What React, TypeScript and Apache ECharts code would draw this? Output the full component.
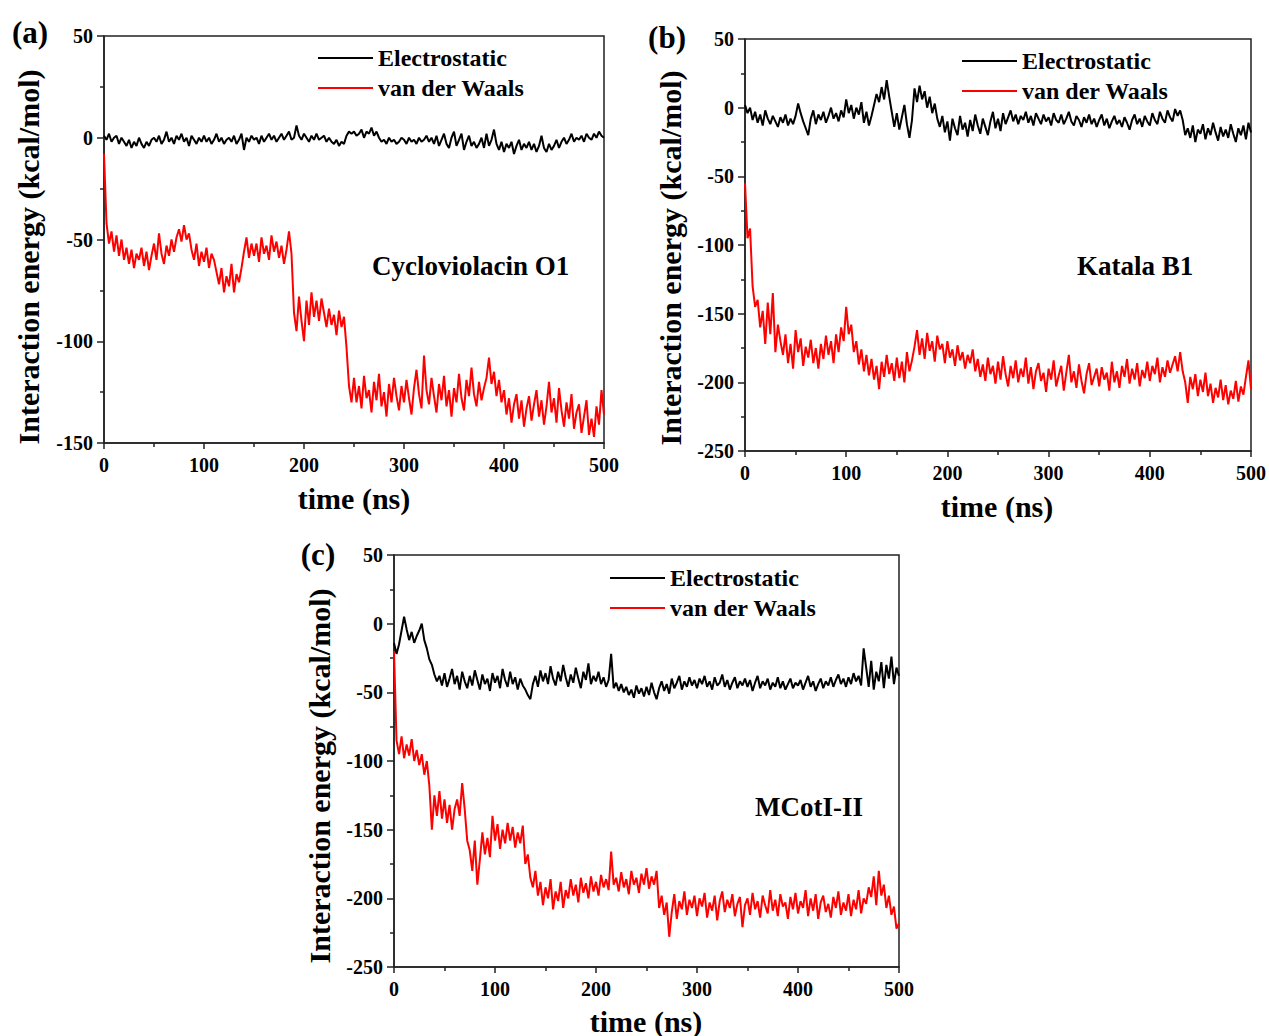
import React, { useEffect, useRef } from "react";
import * as echarts from "echarts";

// ---------- data (kcal/mol), sampled every 2.5 ns from 0 to 500 ns ----------
const STEP_NS = 2.5;
const X_TICKS = [0, 100, 200, 300, 400, 500];

// (a) Cycloviolacin O1
const A_ELEC = [
  1, -1, 2, -2, 0, 1, -3, 0, -2, -4,
  -1, -5, -2, -4, 0, -3, -5, -2, -4, -1,
  0, -2, 1, -3, -1, 3, -2, 0, -3, 1,
  -1, 2, -2, 0, -4, 1, -1, -3, 0, -2,
  1, -2, 0, -3, -1, 2, -2, 0, -3, -1,
  0, -2, 1, -3, -1, 2, -6, 0, -2, 1,
  -1, 0, -3, 1, -2, 0, 2, -1, 1, -2,
  0, 2, -1, 1, 3, -1, 0, 6, 1, -1,
  2, 0, -2, 1, -1, 2, -1, 0, 1, -2,
  0, -2, -3, -1, -4, -2, -3, 1, 3, 2,
  3, 1, 2, 4, 0, 3, 2, 5, 1, 3,
  0, -2, -1, -3, 0, -2, -1, -3, -2, 0,
  -1, -3, 0, -2, -1, -3, 0, -2, -1, 1,
  -2, 0, -3, 1, -4, -1, 2, -3, -5, 0,
  3, -4, -1, 2, -6, -2, 1, -4, -2, -5,
  -3, 0, -5, 2, -4, -1, 4, -3, -6, -2,
  -7, -3, -5, -2, -8, -4, -1, -6, -3, -5,
  -2, -6, -3, -7, -4, 1, -5, -7, -3, -6,
  -4, -1, -5, -2, 0, -3, -1, 2, -2, 0,
  -1, 1, -2, 2, 0, -1, 2, 0, 3, 1,
  0,
];
const A_VDW = [
  -8, -42, -52, -46, -56, -48, -58, -50, -60, -54,
  -62, -55, -64, -57, -60, -54, -63, -56, -65, -58,
  -52, -60, -47, -57, -62, -53, -58, -50, -56, -49,
  -45, -51, -43, -50, -47, -55, -60, -52, -63, -56,
  -61, -54, -64, -57, -60, -66, -72, -64, -76, -68,
  -73, -62, -76, -67, -71, -64, -56, -49, -59, -52,
  -58, -52, -61, -49, -57, -53, -60, -48, -56, -51,
  -59, -53, -62, -55, -46, -57, -86, -95, -78, -90,
  -100, -80, -92, -76, -88, -80, -90, -79, -86, -93,
  -84, -92, -87, -97, -85, -93, -88, -103, -122, -130,
  -118, -130, -122, -133, -117, -128, -124, -135, -120, -129,
  -116, -132, -125, -137, -121, -130, -118, -127, -134, -122,
  -130, -119, -128, -136, -123, -114, -126, -133, -107, -124,
  -131, -118, -127, -135, -121, -129, -117, -132, -124, -137,
  -123, -130, -116, -128, -134, -119, -127, -113, -126, -132,
  -120, -129, -123, -118, -108, -121, -115, -127, -119, -130,
  -124, -136, -128, -140, -131, -126, -138, -129, -142, -133,
  -127, -139, -131, -124, -137, -129, -141, -132, -120, -135,
  -128, -140, -123, -134, -142, -130, -138, -126, -143, -135,
  -131, -145, -137, -129, -146, -138, -147, -132, -141, -124,
  -136,
];

// (b) Katala B1
const B_ELEC = [
  2, -4, 0, -9, -3, -11, -5, -13, -2, -8,
  -12, -6, -10, -14, -7, -11, -5, -13, -8, -12,
  -6, 3, -4, -10, -15, -20, -8, -2, -12, -5,
  -9, -3, -11, -6, 0, -8, -4, -10, -2, -7,
  6, -4, 2, -8, 0, -5, 4, -11, -3, -13,
  -6, 2, 10, 4, 15, 6, 20, 8, -3, -14,
  -4, -16, -7, 2, -12, -22, -9, 14, 4, 16,
  6, 12, 0, 8, -4, 3, -8, -14, -6, -18,
  -10, -24, -8, -15, -20, -6, -16, -11, -21, -9,
  -17, -5, -13, -19, -8, -14, -20, -10, -3, -15,
  -8, -17, -4, -12, -7, -2, -10, -5, -12, -6,
  -9, -3, -11, -6, -13, -4, -8, -12, -5, -10,
  -7, -13, -4, -9, -11, -5, -12, -8, -3, -10,
  -13, -6, -9, -14, -7, -11, -5, -12, -8, -14,
  -9, -5, -13, -8, -15, -10, -6, -12, -9, -14,
  -7, -11, -16, -9, -5, -12, -8, -14, -6, -10,
  -13, -4, -9, -12, -3, -8, -11, -2, -7, -10,
  -1, -6, -2, -9, -20, -15, -22, -13, -25, -16,
  -19, -12, -23, -15, -20, -11, -18, -24, -14, -21,
  -16, -22, -12, -19, -25, -15, -20, -13, -23, -11,
  -18,
];
const B_VDW = [
  -55, -95, -88, -130, -145, -140, -160, -148, -172, -142,
  -165, -135, -178, -158, -170, -180, -165, -186, -172, -190,
  -162, -178, -168, -188, -174, -182, -169, -186, -175, -190,
  -172, -183, -166, -180, -170, -186, -165, -178, -160, -170,
  -145, -165, -158, -178, -170, -187, -176, -192, -180, -195,
  -183, -198, -188, -205, -185, -196, -180, -194, -186, -199,
  -182, -197, -185, -200, -178, -192, -184, -174, -162, -180,
  -168, -183, -164, -177, -170, -185, -166, -176, -172, -186,
  -170, -182, -176, -188, -173, -184, -178, -190, -180, -186,
  -176, -192, -183, -196, -187, -199, -182, -194, -188, -201,
  -185, -198, -181, -194, -203, -188, -197, -184, -200, -190,
  -196, -182, -201, -189, -205, -192, -186, -199, -193, -207,
  -190, -198, -184, -203, -195, -188, -206, -193, -180, -200,
  -192, -204, -187, -199, -208, -194, -186, -202, -196, -190,
  -203, -189, -198, -193, -206, -185, -200, -192, -204, -188,
  -196, -183, -201, -190, -198, -186, -203, -191, -197, -185,
  -199, -188, -194, -182, -200, -189, -196, -184, -193, -187,
  -181, -192, -178, -192, -200, -215, -196, -205, -194, -210,
  -198, -207, -193, -210, -201, -215, -204, -211, -198, -213,
  -202, -216, -206, -212, -199, -214, -203, -209, -196, -184,
  -205,
];

// (c) MCotI-II
const C_ELEC = [
  -14, -22, -15, -5, 5, -4, -12, -6, -14, -9,
  -5, 0, -12, -18, -26, -30, -37, -42, -38, -45,
  -36, -46, -40, -33, -44, -38, -48, -35, -42, -47,
  -38, -45, -34, -41, -48, -37, -44, -40, -49, -36,
  -43, -38, -47, -33, -41, -46, -35, -44, -39, -48,
  -40, -45, -48, -52, -55, -44, -38, -46, -34, -42,
  -36, -44, -31, -40, -45, -35, -42, -30, -39, -46,
  -37, -43, -32, -40, -47, -35, -41, -29, -44, -38,
  -42, -35, -44, -39, -46, -41, -22, -47, -43, -49,
  -44, -50, -46, -52, -48, -54, -45, -51, -47, -53,
  -46, -52, -43, -50, -55, -47, -42, -49, -44, -51,
  -40, -47, -43, -38, -48, -42, -46, -39, -45, -41,
  -47, -40, -44, -38, -46, -42, -48, -39, -45, -43,
  -37, -46, -41, -48, -43, -39, -47, -42, -45, -40,
  -46, -41, -49, -43, -38, -47, -42, -45, -40, -48,
  -43, -46, -39, -47, -42, -48, -44, -40, -47, -43,
  -45, -41, -48, -43, -38, -46, -42, -49, -44, -40,
  -47, -42, -45, -39, -46, -41, -37, -44, -40, -46,
  -39, -44, -36, -42, -38, -45, -18, -32, -46, -27,
  -48, -35, -42, -28, -47, -30, -40, -24, -44, -32,
  -38,
];
const C_VDW = [
  -20, -85, -95, -82, -98, -88, -96, -84, -100, -92,
  -103, -95, -110, -100, -118, -150, -125, -140, -122, -142,
  -128, -145, -132, -150, -135, -128, -140, -116, -135, -158,
  -165, -180, -158, -190, -172, -152, -168, -156, -170, -140,
  -158, -146, -164, -150, -160, -145, -158, -148, -163, -152,
  -160, -147, -175, -168, -185, -192, -180, -198, -188, -205,
  -192, -200, -186, -208, -195, -202, -188, -207, -194, -200,
  -186, -198, -190, -203, -185, -196, -189, -200, -184, -195,
  -188, -198, -183, -192, -186, -194, -166, -190, -185, -195,
  -181, -192, -186, -197, -180, -190, -185, -196, -182, -190,
  -178, -193, -184, -190, -180, -207, -198, -212, -203, -228,
  -210, -197, -215, -202, -208, -195, -212, -201, -207, -198,
  -213, -200, -206, -196, -214, -203, -209, -198, -216, -202,
  -195, -210, -201, -207, -197, -213, -204, -199, -221, -205,
  -200, -212, -196, -208, -202, -214, -198, -205, -211, -194,
  -209, -201, -213, -197, -206, -203, -215, -199, -208, -196,
  -211, -202, -207, -194, -213, -200, -209, -197, -215, -203,
  -198, -210, -204, -214, -199, -207, -195, -212, -203, -209,
  -197, -213, -201, -208, -194, -211, -200, -204, -192, -199,
  -184, -205, -180, -198, -190, -207, -198, -212, -206, -222,
  -218,
];

const SERIES_NAMES = ["Electrostatic", "van der Waals"];
const PANEL_LABELS = ["(a)", "(b)", "(c)"];
const PANEL_TITLES = ["Cycloviolacin O1", "Katala B1", "MCotI-II"];
const Y_RANGES = [
  [-150, 50],
  [-250, 50],
  [-250, 50],
];
const X_NAME = "time (ns)";
const Y_NAME = "Interaction energy (kcal/mol)";

// ---------- layout ----------
const FONT = '"Liberation Serif", "Times New Roman", serif';
const AXIS_COLOR = "#222";
const COLORS = ["#000000", "#ff0000"];

const GRIDS = [
  { left: 104, top: 36, width: 500, height: 407 },
  { left: 745, top: 39, width: 506, height: 412 },
  { left: 394, top: 555, width: 505, height: 412 },
];
const LAYOUT = [
  { label: [30, 32], yName: [28, 257], xName: [354, 498], title: [372, 266], legend: [318, 58] },
  { label: [667, 37], yName: [670, 258], xName: [997, 506], title: [1077, 266], legend: [962, 61] },
  { label: [318, 554], yName: [319, 776], xName: [646, 1021], title: [755, 807], legend: [610, 578] },
];

const toPairs = (vals: number[]) => vals.map((v, i) => [i * STEP_NS, v]);

const PANEL_DATA = [
  [A_ELEC, A_VDW],
  [B_ELEC, B_VDW],
  [C_ELEC, C_VDW],
];

function buildOption() {
  const labelStyle = {
    color: "#000",
    fontFamily: FONT,
    fontWeight: "bold" as const,
    fontSize: 20,
  };
  const xAxis = GRIDS.map((_, i) => ({
    type: "value",
    gridIndex: i,
    min: X_TICKS[0],
    max: X_TICKS[X_TICKS.length - 1],
    interval: X_TICKS[1] - X_TICKS[0],
    axisLine: { show: true, onZero: false, lineStyle: { color: AXIS_COLOR, width: 1.5 } },
    axisTick: { show: true, inside: false, length: 6, lineStyle: { color: AXIS_COLOR, width: 1.5 } },
    minorTick: { show: true, splitNumber: 2, length: 4, lineStyle: { color: AXIS_COLOR, width: 1.5 } },
    splitLine: { show: false },
    axisLabel: { ...labelStyle, margin: 12 },
  }));
  const yAxis = GRIDS.map((_, i) => ({
    type: "value",
    gridIndex: i,
    min: Y_RANGES[i][0],
    max: Y_RANGES[i][1],
    interval: 50,
    axisLine: { show: true, onZero: false, lineStyle: { color: AXIS_COLOR, width: 1.5 } },
    axisTick: { show: true, inside: false, length: 7, lineStyle: { color: AXIS_COLOR, width: 1.5 } },
    minorTick: { show: true, splitNumber: 2, length: 4, lineStyle: { color: AXIS_COLOR, width: 1.5 } },
    splitLine: { show: false },
    axisLabel: { ...labelStyle, margin: 11 },
  }));
  const grid = GRIDS.map((g) => ({
    ...g,
    show: true,
    borderColor: AXIS_COLOR,
    borderWidth: 1.5,
    backgroundColor: "transparent",
  }));
  const series: any[] = [];
  PANEL_DATA.forEach((pair, i) => {
    pair.forEach((vals, k) => {
      series.push({
        type: "line",
        name: SERIES_NAMES[k],
        xAxisIndex: i,
        yAxisIndex: i,
        data: toPairs(vals),
        showSymbol: false,
        symbol: "none",
        lineStyle: { color: COLORS[k], width: 2 },
        itemStyle: { color: COLORS[k] },
        z: 2 + k,
      });
    });
  });

  const graphic: any[] = [];
  LAYOUT.forEach((L, i) => {
    graphic.push({
      type: "text",
      x: L.label[0],
      y: L.label[1],
      style: { text: PANEL_LABELS[i], fontFamily: FONT, fontWeight: "bold", fontSize: 31, fill: "#000", align: "center", verticalAlign: "middle" },
    });
    graphic.push({
      type: "text",
      x: L.yName[0],
      y: L.yName[1],
      rotation: Math.PI / 2,
      style: { text: Y_NAME, fontFamily: FONT, fontWeight: "bold", fontSize: 30, fill: "#000", align: "center", verticalAlign: "middle" },
    });
    graphic.push({
      type: "text",
      x: L.xName[0],
      y: L.xName[1],
      style: { text: X_NAME, fontFamily: FONT, fontWeight: "bold", fontSize: 30, fill: "#000", align: "center", verticalAlign: "middle" },
    });
    graphic.push({
      type: "text",
      x: L.title[0],
      y: L.title[1],
      style: { text: PANEL_TITLES[i], fontFamily: FONT, fontWeight: "bold", fontSize: 27, fill: "#000", align: "left", verticalAlign: "middle" },
    });
    SERIES_NAMES.forEach((nm, k) => {
      const lx = L.legend[0];
      const ly = L.legend[1] + k * 30;
      graphic.push({
        type: "line",
        shape: { x1: lx, y1: ly, x2: lx + 55, y2: ly },
        style: { stroke: COLORS[k], lineWidth: 2 },
      });
      graphic.push({
        type: "text",
        x: lx + 60,
        y: ly,
        style: { text: nm, fontFamily: FONT, fontWeight: "bold", fontSize: 24, fill: "#000", align: "left", verticalAlign: "middle" },
      });
    });
  });

  return {
    animation: false,
    backgroundColor: "#ffffff",
    grid,
    xAxis,
    yAxis,
    series,
    graphic,
  };
}

export default function App() {
  const ref = useRef<HTMLDivElement>(null);
  useEffect(() => {
    document.body.style.margin = "0";
    if (!ref.current) return;
    const chart = echarts.init(ref.current, null, { renderer: "svg" });
    chart.setOption(buildOption() as any);
    return () => chart.dispose();
  }, []);
  return <div ref={ref} style={{ width: 1269, height: 1036 }} />;
}
